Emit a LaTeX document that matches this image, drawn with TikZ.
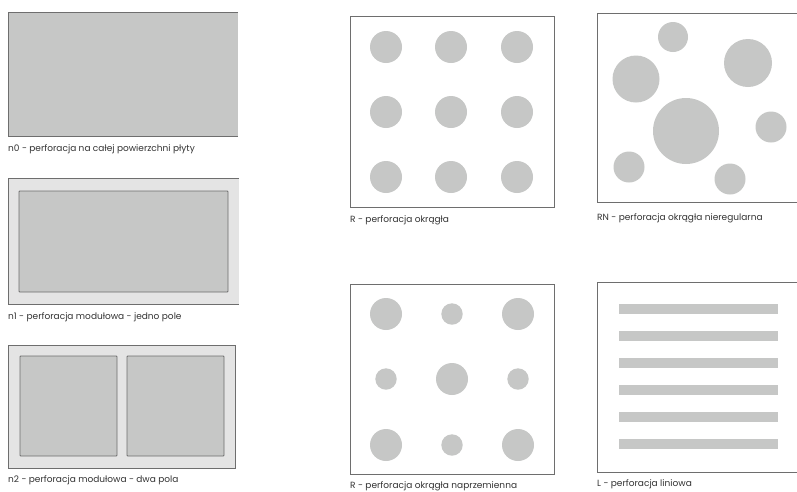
\documentclass[tikz,border=0pt]{standalone}
\usepackage{fontspec}
\setmainfont{Poppins}
\usepackage{xcolor}
\usepackage{tikz}
\usetikzlibrary{positioning}

\definecolor{holegray}{HTML}{C6C7C6}
\definecolor{framegray}{HTML}{E4E4E4}
\definecolor{edgegray}{HTML}{6E6E6E}
\definecolor{textgray}{HTML}{333333}

\begin{document}
\begin{tikzpicture}[
    x=1pt, y=-1pt,
    panel/.style={draw=edgegray, line width=1pt, fill=white},
    field/.style={draw=edgegray, line width=0.8pt, fill=holegray, rounded corners=0.8pt},
    hole/.style={fill=holegray},
    caption/.style={anchor=west, inner sep=0pt, font=\fontsize{9}{11}\selectfont, text=textgray},
]
    \useasboundingbox (0,0) rectangle (797,491);
    \clip (0,0) rectangle (797,491);

    % n0
    \fill[holegray] (8,12) rectangle (238,136);
    \draw[edgegray, line width=1pt] (238,12) -- (8,12) -- (8,136) -- (238,136);
    \node[caption] (n0) at (8,149) {n0 - perforacja na całej powierzchni płyty};

    % n1
    \fill[framegray] (8,178) rectangle (239,304);
    \draw[edgegray, line width=1pt] (239,178) -- (8,178) -- (8,304) -- (239,304);
    \draw[field] (19,191) rectangle (228,292);
    \node[caption] (n1) at (8,317) {n1 - perforacja modułowa - jedno pole};

    % n2
    \draw[panel, fill=framegray] (8,345) rectangle (235,468);
    \draw[field] (20,356) rectangle (117,456);
    \draw[field] (127,356) rectangle (224,456);
    \node[caption] (n2) at (8,480) {n2 - perforacja modułowa - dwa pola};

    % R
    \draw[panel] (350,16) rectangle (554,207);
    \foreach \cx in {386,451,517}
        \foreach \cy in {47,112,177}
            \fill[hole] (\cx,\cy) circle (16);
    \node[caption] (r) at (350,220) {R - perforacja okrągła};

    % RN
    \draw[panel] (597,13) rectangle (820,202);
    \foreach \cx/\cy/\rad in {673/37/15, 636/79/23.5, 748/63/24, 686/131/33,
                              771/127/15.5, 629/167/15.5, 730/179/15.5}
        \fill[hole] (\cx,\cy) circle (\rad);
    \node[caption] (rn) at (597,218) {RN - perforacja okrągła nieregularna};

    % R naprzemienna
    \draw[panel] (350,284) rectangle (554,474);
    \foreach \cx/\cy/\rad in {386/314/16, 452/314/10.7, 518/314/16,
                              386/379/10.7, 452/379/16, 518/379/10.7,
                              386/445/16, 452/445/10.7, 518/445/16}
        \fill[hole] (\cx,\cy) circle (\rad);
    \node[caption] (ra) at (350,486) {R - perforacja okrągła naprzemienna};

    % L
    \draw[panel] (597,282) rectangle (820,472);
    \foreach \cy in {309,336,363,390,417,444}
        \fill[hole] (619,\cy-5) rectangle (778,\cy+5);
    \node[caption] (l) at (597,484) {L - perforacja liniowa};
\end{tikzpicture}
\end{document}
